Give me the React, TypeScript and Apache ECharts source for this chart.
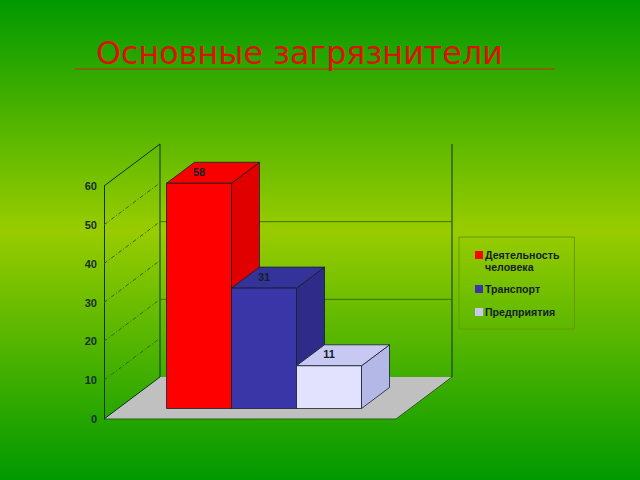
import React, { useEffect, useRef } from "react";
import * as echarts from "echarts";

const chartTitle = "Основные загрязнители";
const categories = [""];
const seriesNames = ["Деятельность\nчеловека", "Транспорт", "Предприятия"];
const seriesValues = [58, 31, 11];
const frontColors = ["#ff0000", "#3a36a8", "#e2e2ff"];
const topColors = ["#f80000", "#333399", "#c8c8f2"];
const sideColors = ["#e00000", "#2e2c88", "#b4b8e6"];
const wallTicks = [10, 20, 30, 40, 50];
const backLineTicks = [20, 40];
const yTickMax = 60;

const WALL_DX = 56;
const WALL_DY = -42;
const BAR_DX = 14;
const BAR_DY = -10.5;
const DEPTH_DX = 28;
const DEPTH_DY = -21;
const EDGE = "#14202a";
const WALL = "#0b3320";

function line(x1: number, y1: number, x2: number, y2: number, style: any) {
  return { type: "line", shape: { x1, y1, x2, y2 }, style: { fill: "none", ...style }, silent: true };
}
function poly(points: number[][], fill: string, stroke: string, lineWidth = 1) {
  return { type: "polygon", shape: { points }, style: { fill, stroke, lineWidth }, silent: true };
}

function renderFrame(_params: any, api: any) {
  const band = api.size([1, 0])[0];
  const center = api.coord([0, 0]);
  const left = center[0] - band / 2;
  const right = center[0] + band / 2;
  const y0 = center[1];
  const yTop = api.coord([0, yTickMax])[1];
  const children: any[] = [
    poly(
      [
        [left, y0],
        [left + WALL_DX, y0 + WALL_DY],
        [right + WALL_DX, y0 + WALL_DY],
        [right, y0],
      ],
      "#c0c0c0",
      "none"
    ),
    line(left, y0, right, y0, { stroke: "#2f5a22", lineWidth: 1 }),
    line(left, y0, left + WALL_DX, y0 + WALL_DY, { stroke: WALL, lineWidth: 1 }),
    line(right, y0, right + WALL_DX, y0 + WALL_DY, { stroke: "#2f5a22", lineWidth: 1 }),
    line(left, yTop, left + WALL_DX, yTop + WALL_DY, { stroke: WALL, lineWidth: 1 }),
    line(left + WALL_DX, yTop + WALL_DY, left + WALL_DX, y0 + WALL_DY, { stroke: WALL, lineWidth: 1 }),
    line(right + WALL_DX, yTop + WALL_DY, right + WALL_DX, y0 + WALL_DY, { stroke: WALL, lineWidth: 1 }),
  ];
  wallTicks.forEach((t) => {
    const y = api.coord([0, t])[1];
    children.push(
      line(left, y, left + WALL_DX, y + WALL_DY, {
        stroke: "#2f6a10",
        lineWidth: 1,
        lineDash: [4, 2, 1, 2],
      })
    );
  });
  backLineTicks.forEach((t) => {
    const y = api.coord([0, t])[1] + WALL_DY;
    children.push(line(left + WALL_DX, y, right + WALL_DX, y, { stroke: "#3f7000", lineWidth: 1 }));
  });
  return { type: "group", children };
}

function renderBar(params: any, api: any) {
  const i = params.seriesIndex - 1;
  const band = api.size([1, 0])[0];
  const barW = (band * 65) / 292;
  const top = api.coord([0, api.value(1)]);
  const base = api.coord([0, 0]);
  const x0 = base[0] + BAR_DX + (i - 1.5) * barW;
  const x1 = x0 + barW;
  const yT = top[1] + BAR_DY;
  const yB = base[1] + BAR_DY;
  return {
    type: "group",
    children: [
      poly(
        [
          [x1, yT],
          [x1 + DEPTH_DX, yT + DEPTH_DY],
          [x1 + DEPTH_DX, yB + DEPTH_DY],
          [x1, yB],
        ],
        sideColors[i],
        EDGE,
        0.8
      ),
      poly(
        [
          [x0, yT],
          [x0 + DEPTH_DX, yT + DEPTH_DY],
          [x1 + DEPTH_DX, yT + DEPTH_DY],
          [x1, yT],
        ],
        topColors[i],
        EDGE,
        0.8
      ),
      poly(
        [
          [x0, yT],
          [x1, yT],
          [x1, yB],
          [x0, yB],
        ],
        frontColors[i],
        EDGE,
        0.8
      ),
      {
        type: "text",
        x: (x0 + x1) / 2,
        y: yT + DEPTH_DY / 2 - 1,
        style: {
          text: String(api.value(1)),
          fill: "#14202a",
          font: "bold 11px 'Liberation Sans'",
          align: "center",
          verticalAlign: "middle",
        },
        silent: true,
      },
    ],
  };
}

export default function App() {
  const ref = useRef<HTMLDivElement>(null);
  useEffect(() => {
    const chart = echarts.init(ref.current!, null, { renderer: "svg" });
    chart.setOption({
      animation: false,
      backgroundColor: {
        type: "linear",
        x: 0,
        y: 0,
        x2: 0,
        y2: 1,
        colorStops: [
          { offset: 0, color: "#009900" },
          { offset: 0.48, color: "#99cc00" },
          { offset: 1, color: "#009900" },
        ],
      },
      title: {
        text: chartTitle,
        left: 96,
        top: 36,
        padding: 0,
        textStyle: {
          color: "#dd1100",
          fontFamily: "DejaVu Sans",
          fontSize: 31.8,
          fontWeight: "normal",
        },
      },
      grid: { left: 104, top: 186, width: 292, height: 233, containLabel: false },
      xAxis: { type: "category", data: categories, show: false },
      yAxis: {
        type: "value",
        min: 0,
        max: yTickMax,
        interval: 10,
        axisLine: { show: true, lineStyle: { color: WALL, width: 1 } },
        axisTick: { show: false },
        splitLine: { show: false },
        axisLabel: {
          margin: 7,
          color: "#14302a",
          fontFamily: "Liberation Sans",
          fontWeight: "bold",
          fontSize: 11,
        },
      },
      legend: {
        orient: "vertical",
        left: 459,
        top: 237,
        padding: [0, 15, 10, 16],
        itemGap: 10,
        itemWidth: 8,
        itemHeight: 8,
        icon: "rect",
        borderColor: "#669900",
        borderWidth: 1,
        data: seriesNames.map((name, i) =>
          i === 2 ? { name, textStyle: { lineHeight: 14 } } : { name }
        ),
        // A leading blank line keeps the swatch level with the first line of a two-line name.
        formatter: (name: string) => (name.includes("\n") ? "\n" + name : name),
        selectedMode: false,
        itemStyle: { borderWidth: 0 },
        textStyle: {
          color: "#14202a",
          fontFamily: "Liberation Sans",
          fontWeight: "bold",
          fontSize: 10.6,
          lineHeight: 12,
          padding: [0, 0, 0, -3],
        },
      },
      graphic: [
        {
          type: "line",
          shape: { x1: 75, y1: 69, x2: 555, y2: 69 },
          style: { stroke: "#9a5000", lineWidth: 1.5 },
          silent: true,
        },
      ],
      series: [
        {
          type: "custom",
          name: "frame",
          renderItem: renderFrame,
          data: [[0, 0]],
          encode: { x: 0, y: 1 },
          silent: true,
          z: 1,
        },
        ...seriesNames.map((name, i) => ({
          type: "custom",
          name,
          renderItem: renderBar,
          data: [[0, seriesValues[i]]],
          encode: { x: 0, y: 1 },
          itemStyle: { color: i === 2 ? topColors[2] : frontColors[i] },
          silent: true,
          z: 2 + i,
        })),
      ],
    });
    return () => chart.dispose();
  }, []);
  return <div ref={ref} style={{ position: "fixed", left: 0, top: 0, width: 640, height: 480 }} />;
}
